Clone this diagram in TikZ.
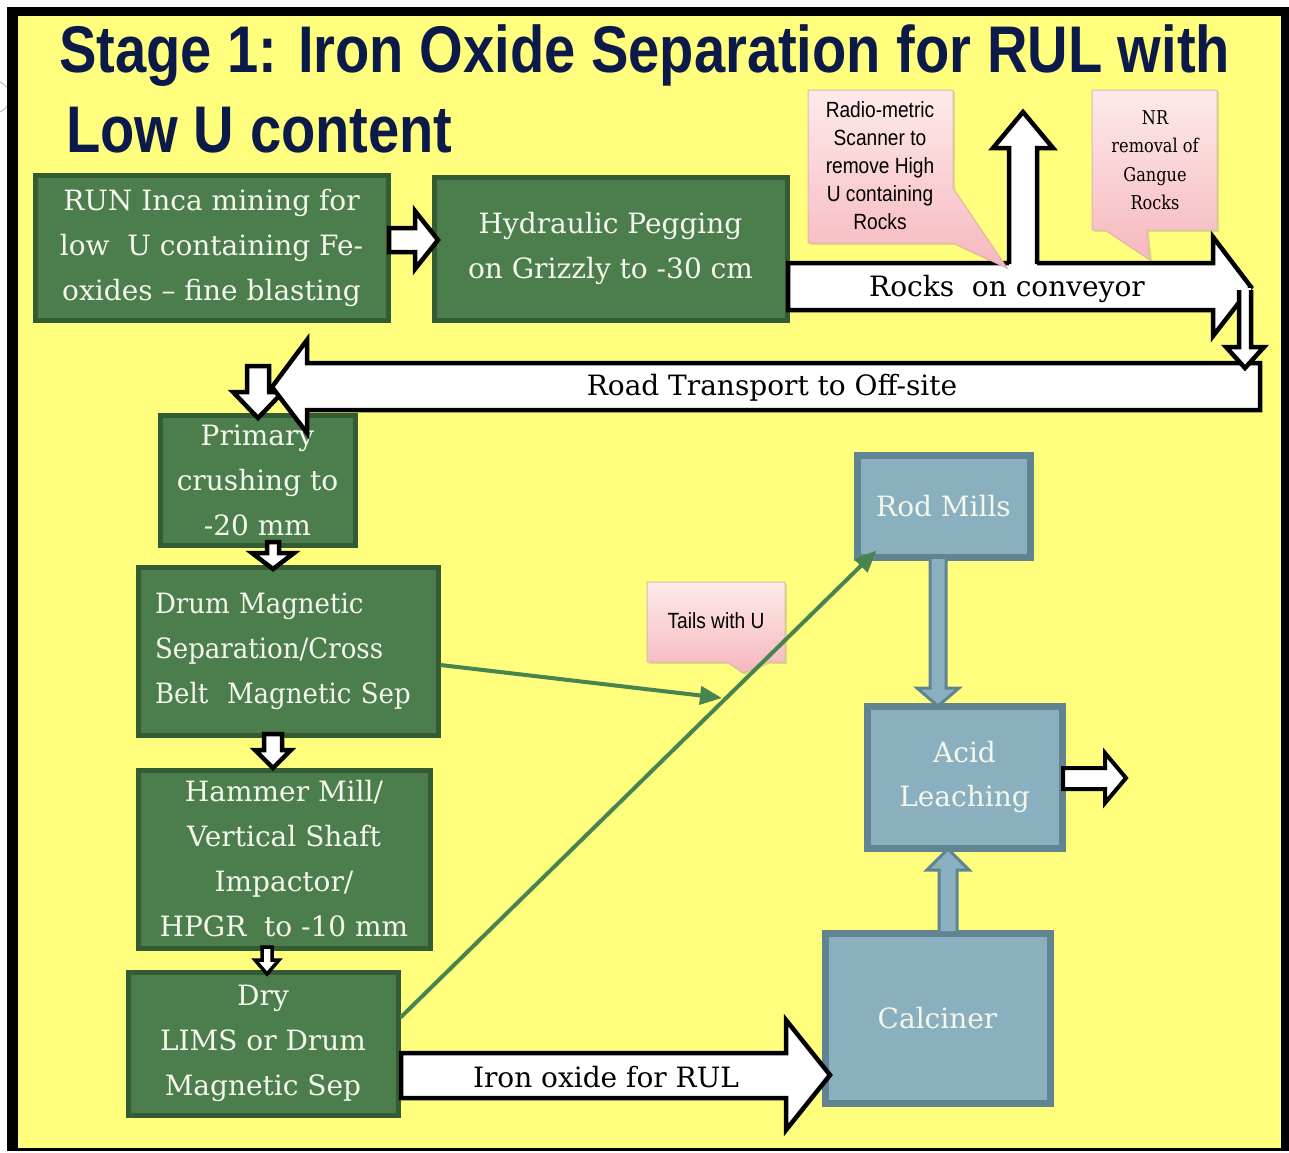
\documentclass[tikz,border=0pt]{standalone}
\usepackage{fontspec}
\setmainfont{DejaVu Serif}
\newfontfamily\titlefont{Liberation Sans}[FakeStretch=0.85]
\newfontfamily\callfont{Liberation Sans}[FakeStretch=0.87]
\newfontfamily\callserif{DejaVu Serif}[FakeStretch=0.85]
\newfontfamily\boxnarrow{DejaVu Serif}[FakeStretch=0.93]
\usetikzlibrary{arrows.meta,calc,shadows}
\definecolor{bgyellow}{RGB}{255,255,125}
\definecolor{gfill}{RGB}{76,125,76}
\definecolor{gline}{RGB}{52,92,52}
\definecolor{bfill}{RGB}{138,176,192}
\definecolor{bline}{RGB}{96,132,146}
\definecolor{titleblue}{RGB}{12,26,74}
\definecolor{boxtext}{RGB}{244,247,236}
\definecolor{pinktop}{RGB}{253,234,234}
\definecolor{pinkbot}{RGB}{246,184,190}
\definecolor{pinkline}{RGB}{225,182,172}
\definecolor{conn}{RGB}{72,132,80}
\begin{document}
\begin{tikzpicture}[x=1pt,y=-1pt,
  gbox/.style={draw=gline, fill=gfill, line width=5pt, text=boxtext, font=\fontsize{28}{45}\selectfont, align=center, inner sep=0pt},
  bbox/.style={draw=bline, fill=bfill, line width=7pt, text=boxtext, font=\fontsize{28}{44}\selectfont, align=center, inner sep=0pt},
  blk/.style={draw=black, fill=white, line width=4.5pt, line join=miter},
  blkline/.style={draw=black, line width=4.5pt, line join=miter},
  bluearr/.style={draw=bline, fill=bfill, line width=3pt, line join=miter},
  callout/.style={draw=pinkline, line width=1pt, top color=pinktop, bottom color=pinkbot, drop shadow={shadow xshift=2pt, shadow yshift=-2pt, opacity=0.25}},
  lbl/.style={font=\fontsize{28}{34}\selectfont, text=black, inner sep=0pt},
  calltext/.style={font=\callfont\fontsize{22}{28}\selectfont, align=center, inner sep=0pt, text=black},
  titletext/.style={anchor=base west, inner sep=0pt, text=titleblue, font=\titlefont\bfseries\fontsize{66}{70}\selectfont},
  connector/.style={draw=conn, line width=4pt, -{Triangle[length=22pt,width=18pt]}}
]
\useasboundingbox (0,0) rectangle (1289,1152);
% frame
\fill[white] (0,0) rectangle (1289,1152);
\draw[black!25, line width=1pt] (-6,97) circle (16);
\fill[black] (7,7) rectangle (1289,1151);
\fill[bgyellow] (18,16) rectangle (1281,1148);

% title
\node[titletext] (title1) at (59,72) {Stage 1: Iron Oxide Separation for RUL with};
\node[titletext] (title2) at (66,152) {Low U content};

% green boxes
\node[gbox, minimum width=353pt, minimum height=145pt] (run) at (211.5,247.5) {RUN Inca mining for\\low\ \ U containing Fe-\\oxides -- fine blasting};
\node[gbox, minimum width=353pt, minimum height=143pt] (hyd) at (610.5,248.5) {Hydraulic Pegging\\on Grizzly to -30 cm};
\node[gbox, minimum width=195pt, minimum height=130pt] (prim) at (257.5,480) {Primary\\crushing to\\-20 mm};
\node[gbox, minimum width=300pt, minimum height=168pt, text width=266pt, align=left, font=\boxnarrow\fontsize{28}{45}\selectfont] (drum) at (288,651) {Drum Magnetic\\Separation/Cross\\Belt\ \ Magnetic Sep};
\node[gbox, minimum width=292pt, minimum height=178pt] (ham) at (284,859) {Hammer Mill/\\Vertical Shaft\\Impactor/\\HPGR\ \ to -10 mm};
\node[gbox, minimum width=270pt, minimum height=143pt] (dry) at (263,1043.5) {Dry\\LIMS or Drum\\Magnetic Sep};

% blue boxes
\node[bbox, minimum width=173pt, minimum height=102pt] (rod) at (943.5,506) {Rod Mills};
\node[bbox, minimum width=195pt, minimum height=142pt] (acid) at (964.5,777) {Acid\\Leaching};
\node[bbox, minimum width=225pt, minimum height=170pt] (calc) at (937.5,1018) {Calciner};

% block arrows
\draw[blk] (389,228) -- (415,228) -- (415,211) -- (438,240) -- (415,269) -- (415,252) -- (389,252) -- cycle;
\draw[blk] (788,263) -- (1213,263) -- (1213,237) -- (1251,287) -- (1213,336) -- (1213,310) -- (788,310) -- cycle;
\node[lbl] (convlbl) at (1007,289) {Rocks\ \ on conveyor};
\draw[blk] (247,366) -- (247,392) -- (233,392) -- (258,418) -- (283,392) -- (269,392) -- (269,366) -- cycle;
\draw[blk] (1260,363) -- (307,363) -- (307,340) -- (272,387) -- (307,433) -- (307,410) -- (1260,410) -- cycle;
\node[lbl] (roadlbl) at (772,388) {Road Transport to Off-site};
% down arrow from conveyor to road
\fill[white] (1239,288) -- (1239,347) -- (1226,347) -- (1245,368) -- (1264,347) -- (1251,347) -- (1251,288) -- cycle;
\draw[blkline] (1239,290) -- (1239,347) -- (1226,347) -- (1245,368) -- (1264,347) -- (1251,347) -- (1251,290);
% up arrow from conveyor
\fill[white] (1009,268) -- (1009,148) -- (993,148) -- (1023,112) -- (1053,148) -- (1037,148) -- (1037,268) -- cycle;
\draw[blkline] (1009,264) -- (1009,148) -- (993,148) -- (1023,112) -- (1053,148) -- (1037,148) -- (1037,264);
% small downward arrows
\draw[blk] (267,542) -- (267,553) -- (252,553) -- (273,569) -- (294,553) -- (279,553) -- (279,542) -- cycle;
\draw[blk] (264,734) -- (264,750) -- (255,750) -- (273,768) -- (291,750) -- (282,750) -- (282,734) -- cycle;
\draw[blk, line width=3.5pt] (262,947) -- (262,960) -- (255,960) -- (267,974) -- (279,960) -- (272,960) -- (272,947) -- cycle;
% iron oxide arrow
\draw[blk] (401,1053) -- (786,1053) -- (786,1020) -- (830,1075) -- (786,1130) -- (786,1098) -- (401,1098) -- cycle;
\node[lbl] (ironlbl) at (606,1077) {Iron oxide for RUL};
% acid out arrow
\draw[blk, line width=4pt] (1063,768) -- (1105,768) -- (1105,753) -- (1126,778) -- (1105,803) -- (1105,789) -- (1063,789) -- cycle;
% blue arrows
\draw[bluearr] (930,559) -- (930,688) -- (917,688) -- (938,706) -- (959,688) -- (946,688) -- (946,559);
\draw[bluearr] (939,931) -- (939,870) -- (927,870) -- (948,849) -- (969,870) -- (957,870) -- (957,931);

% callouts
\path[callout] (808,90) -- (953,90) -- (953,188) -- (1007,268) -- (953,243) -- (808,243) -- cycle;
\node[calltext] (radio) at (880,166) {Radio-metric\\Scanner to\\remove High\\U containing\\Rocks};
\path[callout] (1092,90) -- (1217,90) -- (1217,230) -- (1147,230) -- (1150,260) -- (1105,230) -- (1092,230) -- cycle;
\node[calltext, font=\callserif\fontsize{19}{28.5}\selectfont] (nr) at (1155,160) {NR\\removal of\\Gangue\\Rocks};
\path[callout] (647,582) -- (785,582) -- (785,662) -- (767,662) -- (743,673) -- (727,662) -- (647,662) -- cycle;
\node[calltext] (tails) at (716,621) {Tails with U};

% green connectors
\coordinate (tailtip) at (722,698);
\draw[connector] ($(drum.east)+(0,14)$) -- (tailtip);
\draw[connector] ($(dry.north east)+(0,48)$) -- ($(rod.south west)+(23,-10)$);
\end{tikzpicture}
\end{document}
